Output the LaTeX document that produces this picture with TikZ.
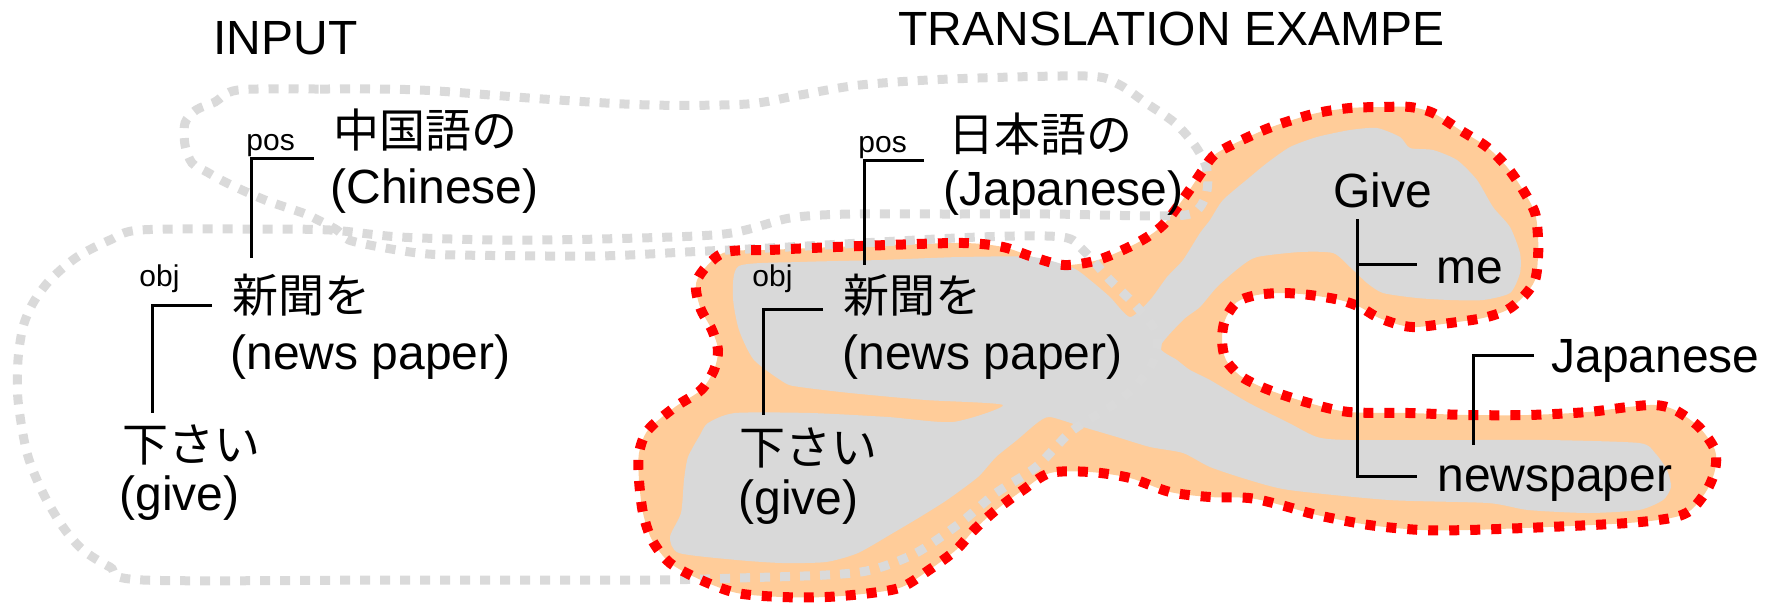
\documentclass[tikz,border=0pt]{standalone}
\usepackage{fontspec}
\setmainfont{Liberation Sans}
\newfontfamily\jpfont{Noto Sans CJK JP}
\definecolor{peach}{HTML}{FFCC99}
\definecolor{blobgray}{HTML}{D9D9D9}
\definecolor{dotgray}{HTML}{DADADA}
\begin{document}
\begin{tikzpicture}[x=0.5pt,y=-0.5pt,
  en/.style={anchor=base west,inner sep=0pt,font=\fontsize{24}{28}\selectfont},
  jp/.style={anchor=base west,inner sep=0pt,font=\jpfont\fontsize{23}{28}\selectfont},
  rel/.style={anchor=base west,inner sep=0pt,font=\fontsize{15}{18}\selectfont},
  tree/.style={line width=1.5pt,black},
  graydots/.style={draw=dotgray,line width=4.5pt,dash pattern=on 5pt off 5pt},
  reddots/.style={draw=red,line width=5pt,dash pattern=on 5pt off 5.5pt}]
\useasboundingbox (0,0) rectangle (1774,602);

% red outline path (saved)
\path[save path=\redp] plot[smooth cycle, tension=0.5] coordinates {
(723,253) (770,250) (811,248) (888,245) (964,243) (1003,247) (1033,257) (1064,265)
(1098,260) (1137,243) (1163,225) (1186,195) (1203,170) (1217,153) (1257,133) (1283,123)
(1317,113) (1350,108) (1383,107) (1410,107) (1433,113) (1460,130) (1487,147) (1507,167)
(1523,190) (1535,213) (1538,237) (1538,257) (1535,280) (1523,297) (1507,310) (1483,318)
(1450,323) (1417,327) (1400,325) (1377,317) (1360,307) (1340,300) (1310,295) (1283,293)
(1257,295) (1237,302) (1225,320) (1222,340) (1226,360) (1242,377) (1269,390) (1309,403)
(1349,412) (1409,413) (1468,415) (1528,415) (1588,412) (1628,407) (1655,405) (1675,410)
(1699,427) (1715,450) (1715,470) (1707,490) (1691,510) (1671,518) (1628,523) (1548,527)
(1468,530) (1421,530) (1369,525) (1317,515) (1281,505) (1249,498) (1210,497) (1170,492)
(1130,478) (1090,472) (1050,473) (1023,490) (996,510) (974,530) (956,550) (929,570)
(902,587) (871,593) (826,597) (782,597) (737,593) (701,580) (670,563) (652,540)
(643,513) (639,480) (639,453) (648,430) (675,407) (701,390) (714,370) (718,350)
(712,330) (700,307) (697,280)};

\fill[peach, use path=\redp];

% gray interior
\fill[blobgray] plot[smooth cycle, tension=0.4] coordinates {
(739,266) (800,262) (880,260) (960,257) (1033,257) (1073,268) (1090,280) (1110,297)
(1130,317) (1150,300) (1167,277) (1183,260) (1200,233) (1210,220) (1223,200) (1250,177)
(1267,163) (1290,147) (1317,137) (1350,130) (1377,128) (1400,137) (1410,148) (1433,150)
(1457,160) (1477,180) (1493,207) (1510,227) (1520,253) (1520,273) (1510,293) (1483,300)
(1450,300) (1417,298) (1383,293) (1367,283) (1350,267) (1333,253) (1300,252) (1257,257)
(1240,267) (1217,287) (1200,307) (1183,320) (1160,347) (1177,360) (1190,370) (1210,380)
(1249,403) (1289,423) (1317,437) (1349,440) (1468,440) (1548,440) (1639,443) (1655,453)
(1667,470) (1671,487) (1663,500) (1639,510) (1588,513) (1528,510) (1488,503) (1389,500)
(1289,490) (1249,480) (1210,467) (1183,453) (1150,447) (1117,437) (1083,427) (1050,417)
(1037,423) (1017,440) (996,457) (978,477) (947,500) (920,517) (893,533) (858,553)
(826,562) (782,563) (737,560) (679,553) (670,537) (681,513) (684,480) (688,457)
(700,435) (708,423) (735,413) (811,413) (888,417) (953,422) (1003,405) (926,400)
(850,393) (800,387) (785,383) (754,360) (739,330) (733,297)};

% gray dotted self-crossing loop
\draw[graydots] plot[smooth cycle, tension=0.5] coordinates {
(238,90) (320,89) (420,90) (543,99) (650,105) (747,104) (800,95) (860,85) (950,79)
(1086,76) (1118,84) (1146,103) (1175,123) (1196,147) (1207,170) (1206,195) (1193,213)
(1157,216) (1050,214) (950,214) (850,214) (790,218) (724,234) (600,239) (500,240)
(400,237) (330,230) (250,229) (140,230) (110,240) (77,257) (50,280) (33,303) (23,327)
(18,360) (18,400) (27,453) (43,493) (63,527) (83,550) (110,567) (143,580) (400,580)
(648,580) (737,578) (826,575) (871,570) (916,553) (960,523) (996,493) (1036,467)
(1073,430) (1120,400) (1150,368) (1157,335) (1137,307) (1110,280) (1083,250) (1062,237)
(979,237) (788,247) (686,252) (596,256) (456,255) (418,253) (380,247) (349,240)
(337,230) (318,220) (303,213) (265,200) (227,183) (207,172) (192,163) (185,145)
(185,123) (196,110) (215,102)};

\draw[reddots, use path=\redp];

% titles
\node[en] (tInput) at (213,54) {INPUT};
\node[en] (tTrans) at (898,45) {TRANSLATION EXAMPE};

% input tree
\node[rel] (inPos) at (246,150) {pos};
\node[jp] (inZh) at (333,147) {中国語の};
\node[en] (inZhE) at (330,203) {(Chinese)};
\node[rel] (inObj) at (139,286) {obj};
\node[jp] (inXw) at (232,312) {新聞を};
\node[en] (inXwE) at (230,369) {(news paper)};
\node[jp] (inKu) at (122,461) {下さい};
\node[en] (inKuE) at (119,510) {(give)};

% example tree
\node[rel] (exPos) at (858,152) {pos};
\node[jp] (exJa) at (948,151) {日本語の};
\node[en] (exJaE) at (943,205) {(Japanese)};
\node[rel] (exObj) at (752,286) {obj};
\node[jp] (exXw) at (843,312) {新聞を};
\node[en] (exXwE) at (842,369) {(news paper)};
\node[jp] (exKu) at (739,464) {下さい};
\node[en] (exKuE) at (738,514) {(give)};

% english tree
\node[en] (give) at (1333,207) {Give};
\node[en] (me) at (1436,283) {me};
\node[en] (jpn) at (1551,372) {Japanese};
\node[en] (news) at (1437,491) {newspaper};

% brackets
\coordinate (inPosA) at (314,158); \coordinate (inPosB) at (251,258);
\coordinate (inObjA) at (212,305); \coordinate (inObjB) at (152,413);
\coordinate (exPosA) at (924,160); \coordinate (exPosB) at (864,265);
\coordinate (exObjA) at (823,309); \coordinate (exObjB) at (763,415);
\coordinate (gT) at (1357,219); \coordinate (gMe) at (1417,264); \coordinate (gNews) at (1417,476);
\coordinate (jA) at (1534,355); \coordinate (jB) at (1473,445);

\draw[tree] (inPosA) -| (inPosB);
\draw[tree] (inObjA) -| (inObjB);
\draw[tree] (exPosA) -| (exPosB);
\draw[tree] (exObjA) -| (exObjB);
\draw[tree] (gT) |- (gNews);
\draw[tree] (gT |- gMe) -- (gMe);
\draw[tree] (jA) -| (jB);
\end{tikzpicture}
\end{document}
